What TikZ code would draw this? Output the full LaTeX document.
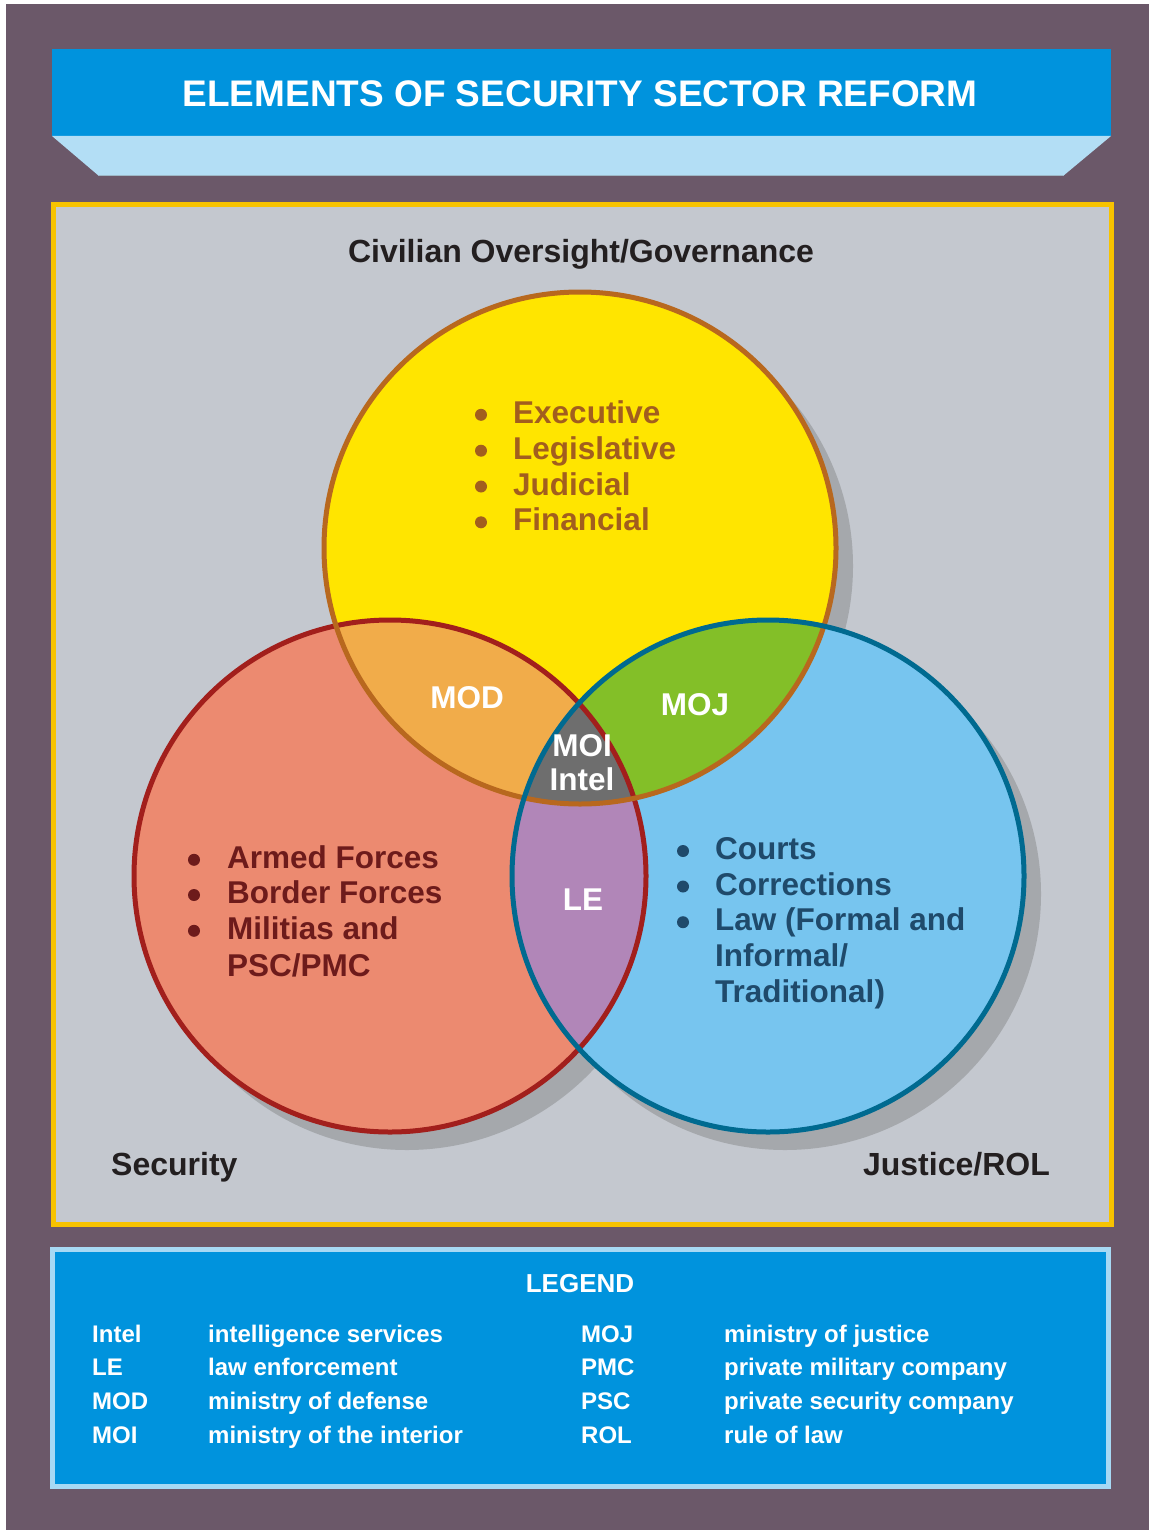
\documentclass[tikz,border=0pt]{standalone}
\usepackage{fontspec}
\setmainfont{Liberation Sans}
\definecolor{bgpurple}{HTML}{6B5869}
\definecolor{titleblue}{HTML}{0093DD}
\definecolor{titlelight}{HTML}{B3DEF5}
\definecolor{panelgray}{HTML}{C4C8CF}
\definecolor{panelyellow}{HTML}{F7C300}
\definecolor{yfill}{HTML}{FFE500}
\definecolor{yline}{HTML}{B8681E}
\definecolor{ytext}{HTML}{A25E1E}
\definecolor{rfill}{HTML}{EC8A70}
\definecolor{rline}{HTML}{A21F1C}
\definecolor{rtext}{HTML}{6D1B1B}
\definecolor{bfill}{HTML}{77C5EF}
\definecolor{bline}{HTML}{006A90}
\definecolor{btext}{HTML}{1F4A6B}
\definecolor{modc}{HTML}{F1AC4A}
\definecolor{mojc}{HTML}{83BF28}
\definecolor{lec}{HTML}{B186B8}
\definecolor{moic}{HTML}{6E6E6E}
\definecolor{shadowc}{HTML}{A5A8AC}
\definecolor{legendborder}{HTML}{A7D9F4}
\definecolor{darktext}{HTML}{231F20}
\begin{document}
\begin{tikzpicture}[x=1pt,y=-1pt,
  big/.style={font=\fontsize{31.5}{36}\selectfont\bfseries, inner sep=0pt},
  item/.style={big, anchor=base west},
  dot/.style={circle, inner sep=0pt, minimum size=12pt},
  ring/.style={line width=5pt},
  leg/.style={font=\fontsize{24}{28}\selectfont\bfseries, text=white, inner sep=0pt, anchor=base west}]
\useasboundingbox (0,0) rectangle (1149,1530);
\fill[white] (0,0) rectangle (1149,1530);
\fill[bgpurple] (6,4) rectangle (1149,1530);
% title banner
\fill[titleblue] (52,49) rectangle (1111,136);
\fill[titlelight] (52,136) -- (1111,136) -- (1063,176) -- (99,176) -- cycle;
\draw[titlelight!60!gray, line width=1pt] (99,176) -- (1063,176);
\node[font=\fontsize{37}{40}\selectfont\bfseries, text=white, inner sep=0pt, anchor=base] (title) at (580,107) {ELEMENTS OF SECURITY SECTOR REFORM};
% panel
\draw[panelyellow, line width=5pt, fill=panelgray] (53.5,204.5) rectangle (1111.5,1224.5);
\node[font=\fontsize{32}{36}\selectfont\bfseries, text=darktext, inner sep=0pt, anchor=base] (civ) at (581,262) {Civilian Oversight/Governance};
\node[font=\fontsize{32}{36}\selectfont\bfseries, text=darktext, inner sep=0pt, anchor=base west] (sec) at (111,1175) {Security};
\node[font=\fontsize{32}{36}\selectfont\bfseries, text=darktext, inner sep=0pt, anchor=base east] (jus) at (1050,1175) {Justice/ROL};
% circles
\coordinate (Y) at (580,548);
\coordinate (R) at (390,876);
\coordinate (B) at (768,876);
\def\rad{256}
\foreach \c in {Y,R,B} \fill[shadowc] ([shift={(17,18)}]\c) circle[radius=\rad];
\fill[yfill] (Y) circle[radius=\rad];
\fill[rfill] (R) circle[radius=\rad];
\fill[bfill] (B) circle[radius=\rad];
\begin{scope}
  \clip (Y) circle[radius=\rad];
  \fill[modc] (R) circle[radius=\rad];
  \fill[mojc] (B) circle[radius=\rad];
\end{scope}
\begin{scope}
  \clip (R) circle[radius=\rad];
  \fill[lec] (B) circle[radius=\rad];
  \clip (Y) circle[radius=\rad];
  \fill[moic] (B) circle[radius=\rad];
\end{scope}
\draw[ring, rline] (R) circle[radius=\rad];
\draw[ring, yline] (Y) circle[radius=\rad];
\draw[ring, bline] (B) circle[radius=\rad];
% yellow list
\foreach \t/\y [count=\i] in {Executive/423.3, Legislative/459.2, Judicial/495, Financial/530.8} {
  \node[item, text=ytext] (y\i) at (513,\y) {\t};
  \node[dot, fill=ytext] (yb\i) at (481,\y-8.5) {};
}
% red list
\foreach \t/\y [count=\i] in {Armed Forces/868.3, Border Forces/903.5, Militias and/939.3} {
  \node[item, text=rtext] (r\i) at (227,\y) {\t};
  \node[dot, fill=rtext] (rb\i) at (194,\y-8.5) {};
}
\node[item, text=rtext] (r4) at (227,976) {PSC/PMC};
% blue list
\foreach \t/\y [count=\i] in {Courts/859.5, Corrections/895, {Law (Formal and}/930.7} {
  \node[item, text=btext] (b\i) at (715,\y) {\t};
  \node[dot, fill=btext] (bb\i) at (683,\y-8.5) {};
}
\node[item, text=btext] (b4) at (715,966.5) {Informal/};
\node[item, text=btext] (b5) at (715,1002) {Traditional)};
% overlap labels
\node[big, text=white, anchor=base] (mod) at (467,708) {MOD};
\node[big, text=white, anchor=base] (moj) at (695,715) {MOJ};
\node[big, text=white, anchor=base] (moi) at (582,756) {MOI};
\node[big, text=white, anchor=base] (intel) at (582,790) {Intel};
\node[big, text=white, anchor=base] (le) at (583,910) {LE};
% legend
\draw[legendborder, line width=5pt, fill=titleblue] (52.5,1249.2) rectangle (1108.3,1486.5);
\node[font=\fontsize{26}{28}\selectfont\bfseries, text=white, inner sep=0pt, anchor=base] (legend) at (580,1292) {LEGEND};
\foreach \a/\d/\y [count=\i] in {Intel/intelligence services/1342.3, LE/law enforcement/1375.8, MOD/ministry of defense/1409.3, MOI/ministry of the interior/1443.3} {
  \node[leg] (la\i) at (92,\y) {\a};
  \node[leg] (ld\i) at (208,\y) {\d};
}
\foreach \a/\d/\y [count=\i] in {MOJ/ministry of justice/1342.3, PMC/private military company/1375.8, PSC/private security company/1409.3, ROL/rule of law/1443.3} {
  \node[leg] (lb\i) at (581,\y) {\a};
  \node[leg] (le\i) at (724,\y) {\d};
}
\end{tikzpicture}
\end{document}
